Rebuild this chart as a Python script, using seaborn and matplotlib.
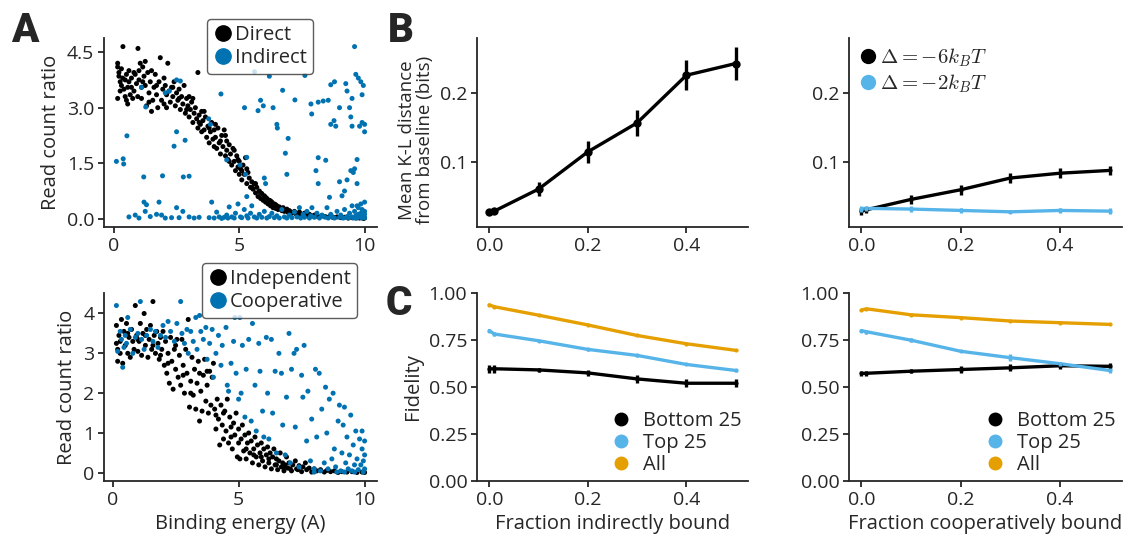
import numpy as np
import pandas as pd
import matplotlib
matplotlib.use("Agg")
import matplotlib.pyplot as plt
import seaborn as sns

sns.set_style("ticks")
plt.rcParams['font.family'] = ['Open Sans', 'DejaVu Sans']
plt.rcParams['mathtext.fontset'] = 'cm'
plt.rcParams['font.size'] = 14
plt.rcParams['axes.labelsize'] = 14.5
plt.rcParams['xtick.labelsize'] = 14
plt.rcParams['ytick.labelsize'] = 14
plt.rcParams['axes.linewidth'] = 1.3
plt.rcParams['xtick.major.width'] = 1.3
plt.rcParams['ytick.major.width'] = 1.3
plt.rcParams['xtick.major.pad'] = 3
plt.rcParams['ytick.major.pad'] = 3

BLACK = "#000000"
BLUE = "#0072B2"
SKY = "#56B4E9"
ORANGE = "#E69F00"

# ---- panel A top: direct vs indirect ----
direct_pts = [
    (0.15, 4.2), (0.15, 4.1), (0.2, 3.95), (0.2, 3.85), (0.15, 3.25), (0.25, 3.7), (0.3, 3.6), (0.3, 4.05),
    (0.35, 3.8), (0.36, 4.65), (0.4, 3.5), (0.45, 3.75), (0.45, 3.3), (0.5, 3.2), (0.5, 3.9),
    (0.55, 3.1), (0.6, 3.7), (0.6, 4.0), (0.65, 3.35), (0.7, 3.55), (0.7, 3.8), (0.75, 3.25), (0.8, 3.45),
    (0.85, 3.9), (0.9, 3.65), (0.95, 3.3), (0.96, 4.6), (1.0, 4.0), (1.0, 3.75),
    (1.05, 4.2), (1.1, 3.55), (1.1, 3.25), (1.15, 4.1), (1.2, 3.85), (1.25, 3.6), (1.25, 4.25), (1.3, 3.05),
    (1.35, 3.95), (1.4, 3.4), (1.45, 3.7), (1.5, 2.9), (1.5, 4.0), (1.55, 3.2),
    (1.6, 3.55), (1.65, 3.9), (1.7, 3.35), (1.75, 3.0), (1.8, 3.7), (1.85, 4.35), (1.9, 3.2), (1.95, 3.5),
    (2.0, 3.8), (2.0, 3.1),
    (2.05, 3.6), (2.1, 3.35), (2.15, 4.2), (2.2, 3.45), (2.25, 3.15), (2.3, 3.55), (2.35, 3.3), (2.4, 3.7),
    (2.45, 3.05), (2.5, 3.4),
    (2.55, 3.2), (2.6, 3.5), (2.65, 2.95), (2.7, 3.3), (2.75, 3.1), (2.8, 3.6), (2.85, 2.85), (2.9, 3.25),
    (2.95, 3.05), (3.0, 2.75), (3.0, 3.3),
    (3.05, 2.95), (3.1, 3.15), (3.15, 2.6), (3.2, 2.85), (3.25, 3.0), (3.3, 2.7), (3.35, 3.95), (3.35, 2.45),
    (3.4, 2.8), (3.45, 2.55), (3.5, 2.9), (3.5, 2.35),
    (3.55, 2.65), (3.6, 2.4), (3.65, 2.75), (3.7, 2.2), (3.75, 2.5), (3.8, 2.05), (3.85, 2.35), (3.9, 2.6),
    (3.95, 2.15), (4.0, 1.95), (4.0, 2.4),
    (4.05, 2.2), (4.1, 1.9), (4.15, 2.45), (4.2, 2.05), (4.25, 1.75), (4.3, 2.25), (4.35, 1.95), (4.4, 2.4),
    (4.45, 1.7), (4.5, 2.1), (4.5, 1.85),
    (4.55, 1.6), (4.6, 2.0), (4.65, 1.75), (4.7, 1.45), (4.75, 1.9), (4.8, 1.55), (4.85, 1.3), (4.9, 1.7),
    (4.95, 1.4), (5.0, 1.2), (5.0, 1.55),
    (5.05, 1.35), (5.1, 1.05), (5.15, 1.45), (5.2, 1.2), (5.25, 1.65), (5.3, 0.95), (5.35, 1.25), (5.4, 1.1),
    (5.45, 0.85), (5.5, 1.0),
    (5.55, 0.8), (5.6, 0.95), (5.65, 0.7), (5.7, 0.85), (5.75, 0.6), (5.8, 0.75), (5.85, 0.55), (5.9, 0.68),
    (5.95, 0.5), (6.0, 0.62),
    (6.05, 0.45), (6.1, 0.55), (6.15, 0.4), (6.2, 0.5), (6.25, 0.35), (6.3, 0.45), (6.35, 0.3), (6.4, 0.4),
    (6.45, 0.28), (6.5, 0.35),
    (6.55, 0.25), (6.6, 0.32), (6.7, 0.22), (6.75, 0.3), (6.8, 0.2), (6.9, 0.26), (6.95, 0.17), (7.0, 0.22),
    (7.1, 0.15), (7.2, 0.2), (7.3, 0.12), (7.4, 0.18), (7.5, 0.1), (7.6, 0.15), (7.7, 0.08), (7.8, 0.12),
    (7.9, 0.07), (8.0, 0.1),
    (8.15, 0.06), (8.3, 0.08), (8.45, 0.05), (8.6, 0.06), (8.75, 0.04), (8.9, 0.05), (9.05, 0.03), (9.2, 0.04),
    (9.35, 0.02), (9.5, 0.03), (9.65, 0.02), (9.8, 0.02), (9.95, 0.01), (10.0, 0.02),
    # extra points filling the dense band
    (0.25, 3.45), (0.55, 3.55), (0.8, 3.95), (1.15, 3.7), (1.4, 3.15), (1.7, 3.6), (2.1, 3.0), (2.35, 3.55),
    (2.6, 3.25), (2.9, 2.95), (3.15, 3.25), (3.4, 2.6), (3.6, 2.9), (3.8, 2.45), (4.05, 2.55), (4.25, 2.1),
    (4.45, 2.25), (4.6, 1.55), (4.8, 1.85), (4.95, 1.6), (5.1, 1.3), (5.3, 1.35), (5.5, 0.85), (5.65, 0.95),
    (5.85, 0.7), (6.05, 0.58), (6.25, 0.48), (6.45, 0.38), (6.65, 0.27), (6.85, 0.23), (7.05, 0.18),
    (7.25, 0.14), (7.45, 0.13), (7.65, 0.1), (7.85, 0.09), (8.05, 0.07), (8.4, 0.06), (8.7, 0.05),
]

indirect_pts = [
    (0.1, 1.55), (0.37, 1.62), (0.39, 1.48), (0.52, 2.24), (1.19, 1.13), (1.94, 1.16), (2.77, 1.13), (3.0, 1.15),
    (2.4, 1.96), (2.84, 2.12), (2.5, 2.35), (1.27, 3.02), (1.1, 3.55), (2.2, 3.45), (2.5, 3.75), (2.65, 3.72),
    (2.05, 3.4), (3.78, 2.7), (3.85, 2.55), (4.27, 3.37), (4.5, 1.59), (5.03, 1.45), (5.25, 1.2), (5.3, 1.66),
    (5.3, 0.6), (5.21, 3.0), (5.61, 3.97), (5.75, 2.92), (5.85, 3.2), (5.96, 3.05), (6.05, 0.95), (6.0, 1.1),
    (6.2, 3.85), (6.35, 3.0), (6.5, 2.55), (6.52, 2.45), (6.73, 3.47), (6.84, 1.77), (6.95, 2.17), (6.9, 1.2),
    (7.22, 3.21), (7.62, 3.87), (7.86, 3.1), (7.89, 2.83), (8.06, 1.3), (8.15, 1.65), (8.45, 1.58), (8.15, 0.95),
    (8.6, 0.58), (8.15, 3.15), (8.35, 3.18), (8.55, 3.2), (8.65, 3.62), (8.8, 3.7), (8.65, 2.55), (8.78, 2.65),
    (8.85, 2.5), (9.0, 3.0), (9.0, 1.0), (9.2, 0.75), (9.1, 0.62), (9.25, 3.65), (9.3, 3.45), (9.4, 3.0),
    (9.45, 2.75), (9.5, 3.25), (9.5, 2.5), (9.6, 4.65), (9.65, 3.9), (9.75, 3.8), (9.85, 3.7), (9.95, 3.6),
    (9.9, 3.35), (10.0, 2.55), (10.0, 2.35), (9.9, 2.6), (9.8, 2.5), (9.7, 1.6), (9.55, 1.25), (9.45, 1.3),
    (9.3, 1.05), (9.6, 1.35), (9.7, 0.95), (9.85, 0.4), (9.75, 0.3), (10.0, 0.45), (9.5, 0.35),
    (0.6, 0.05), (0.85, 0.1), (1.0, 0.02), (1.2, 0.45), (1.3, 0.38), (1.25, 0.2), (1.45, 0.06), (1.7, 0.12),
    (1.8, 0.45), (1.9, 0.1), (2.05, 0.02), (2.3, 0.03), (2.5, 0.3), (2.6, 0.03), (2.75, 0.2), (3.0, 0.05),
    (3.2, 0.02), (3.4, 0.04), (3.8, 0.03), (3.9, 0.45), (4.0, 0.02), (4.1, 0.18), (4.2, 0.05), (4.3, 0.01),
    (4.4, 0.04), (4.5, 0.1), (4.55, 0.02), (4.6, 0.32), (4.7, 0.05), (4.8, 0.02), (4.85, 0.15), (4.95, 0.4),
    (5.05, 0.05), (5.1, 0.03), (5.2, 0.25), (5.3, 0.08), (5.35, 0.02), (5.45, 0.15), (5.5, 0.35), (5.6, 0.05),
    (5.7, 0.02), (5.8, 0.12), (5.9, 0.04), (6.0, 0.2), (6.1, 0.02), (6.2, 0.06), (6.3, 0.15), (6.4, 0.03),
    (6.5, 0.08), (6.6, 0.02), (6.7, 0.25), (6.8, 0.05), (6.9, 0.02), (7.0, 0.1), (7.1, 0.03), (7.2, 0.18),
    (7.3, 0.05), (7.4, 0.3), (7.45, 0.02), (7.55, 0.12), (7.6, 0.04), (7.7, 0.2), (7.8, 0.02), (7.85, 0.08),
    (7.9, 0.3), (8.0, 0.04), (8.1, 0.15), (8.2, 0.02), (8.3, 0.1), (8.4, 0.05), (8.5, 0.3), (8.55, 0.02),
    (8.65, 0.12), (8.7, 0.05), (8.8, 0.02), (8.9, 0.2), (9.0, 0.04), (9.05, 0.1), (9.15, 0.02), (9.2, 0.25),
    (9.3, 0.06), (9.35, 0.02), (9.4, 0.15), (9.5, 0.05), (9.55, 0.02), (9.6, 0.2), (9.65, 0.08), (9.7, 0.02),
    (9.75, 0.12), (9.8, 0.05), (9.85, 0.15), (9.9, 0.02), (9.95, 0.08), (10.0, 0.03), (10.0, 0.12), (10.0, 0.2),
    (9.9, 0.25), (9.7, 0.35),
]

# ---- panel A bottom: independent vs cooperative ----
independent_pts = [
    (0.15, 3.25), (0.15, 3.7), (0.2, 2.8), (0.2, 3.1), (0.25, 3.45), (0.3, 3.3), (0.35, 3.85), (0.4, 2.75),
    (0.45, 3.55), (0.5, 3.2), (0.55, 3.75), (0.6, 3.0), (0.65, 3.4), (0.7, 2.9), (0.75, 3.6), (0.8, 3.3),
    (0.85, 3.1), (0.9, 4.2), (0.95, 3.45), (1.0, 3.05),
    (1.05, 3.3), (1.1, 3.75), (1.15, 2.95), (1.2, 3.5), (1.25, 4.0), (1.3, 3.2), (1.35, 3.6), (1.4, 2.9),
    (1.45, 3.35), (1.5, 3.7), (1.55, 3.1), (1.6, 4.3), (1.65, 3.45), (1.7, 3.0), (1.75, 3.55), (1.8, 3.25),
    (1.85, 2.85), (1.9, 3.4), (1.95, 3.1), (2.0, 3.55),
    (2.05, 2.7), (2.1, 3.3), (2.15, 2.5), (2.2, 3.0), (2.25, 2.25), (2.3, 3.4), (2.35, 2.8), (2.4, 2.1),
    (2.45, 3.1), (2.5, 2.6), (2.55, 3.35), (2.6, 2.4), (2.65, 2.95), (2.7, 2.2), (2.75, 3.35), (2.8, 2.7),
    (2.85, 2.0), (2.9, 3.1), (2.95, 2.5), (3.0, 3.85),
    (3.05, 1.65), (3.1, 2.3), (3.15, 2.9), (3.2, 1.95), (3.25, 2.6), (3.3, 1.6), (3.35, 2.25), (3.4, 2.8),
    (3.45, 1.3), (3.5, 2.05), (3.55, 1.55), (3.6, 2.45), (3.65, 2.85), (3.7, 1.8), (3.75, 2.2), (3.8, 1.5),
    (3.85, 2.55), (3.9, 1.7), (3.95, 2.4), (4.0, 2.75),
    (4.05, 1.6), (4.1, 1.1), (4.15, 1.85), (4.2, 1.35), (4.25, 0.7), (4.3, 1.7), (4.35, 1.2), (4.4, 0.85),
    (4.45, 1.55), (4.5, 1.05), (4.55, 1.85), (4.6, 0.75), (4.65, 1.4), (4.7, 1.15), (4.75, 0.6), (4.8, 1.25),
    (4.85, 0.95), (4.9, 1.5), (4.95, 0.4), (5.0, 1.1),
    (5.05, 0.35), (5.1, 0.85), (5.15, 1.2), (5.2, 0.55), (5.25, 0.95), (5.3, 0.35), (5.35, 0.75), (5.4, 1.0),
    (5.45, 0.5), (5.5, 0.8), (5.55, 0.25), (5.6, 0.6), (5.65, 0.9), (5.7, 0.4), (5.75, 0.7), (5.8, 0.2),
    (5.85, 0.5), (5.9, 0.75), (5.95, 0.3), (6.0, 0.6),
    (6.05, 0.15), (6.1, 0.45), (6.15, 0.65), (6.2, 0.25), (6.25, 0.5), (6.3, 0.1), (6.35, 0.4), (6.4, 0.6),
    (6.45, 0.2), (6.5, 0.35), (6.55, 0.08), (6.6, 0.3), (6.65, 0.5), (6.7, 0.15), (6.75, 0.25), (6.8, 0.05),
    (6.85, 0.2), (6.9, 0.4), (6.95, 0.12), (7.0, 0.25),
    (7.1, 0.05), (7.15, 0.2), (7.25, 0.3), (7.3, 0.1), (7.4, 0.18), (7.5, 0.03), (7.55, 0.15), (7.65, 0.25),
    (7.7, 0.08), (7.8, 0.12), (7.9, 0.02), (8.0, 0.1),
    (8.1, 0.05), (8.25, 0.08), (8.4, 0.02), (8.5, 0.06), (8.65, 0.03), (8.8, 0.05), (8.95, 0.01), (9.1, 0.03),
    (9.3, 0.02), (9.5, 0.03), (9.7, 0.01), (9.9, 0.02), (10.0, 0.01),
    # extra points filling the dense band
    (0.3, 3.0), (0.6, 3.5), (1.0, 3.35), (1.3, 3.45), (1.6, 3.2), (1.9, 2.95), (2.2, 2.75), (2.5, 3.2),
    (2.8, 2.45), (3.1, 2.0), (3.45, 2.5), (3.75, 2.55), (4.1, 1.45), (4.4, 1.5), (4.7, 0.9), (5.0, 0.75),
    (5.3, 0.6), (5.6, 0.45), (5.9, 0.4), (6.2, 0.35), (6.5, 0.2), (6.8, 0.15), (7.05, 0.1), (7.35, 0.08),
]

cooperative_pts = [
    (0.15, 4.2), (0.2, 3.05), (0.3, 3.55), (0.35, 3.35), (0.4, 2.65), (0.45, 3.15), (0.5, 3.45), (0.55, 3.25),
    (0.6, 3.9), (0.7, 3.6), (0.8, 3.0), (0.9, 3.4), (1.0, 3.5),
    (1.1, 4.3), (1.15, 3.35), (1.25, 3.1), (1.35, 3.45), (1.5, 3.6), (1.6, 3.3), (1.7, 3.55), (1.8, 3.15),
    (1.9, 3.45), (2.0, 3.7),
    (2.1, 3.4), (2.2, 3.8), (2.3, 3.55), (2.45, 3.3), (2.55, 3.75), (2.7, 4.3), (2.75, 3.5), (2.85, 3.25),
    (2.95, 3.6), (3.0, 3.0),
    (3.1, 3.55), (3.2, 3.3), (3.3, 3.9), (3.35, 3.1), (3.45, 3.95), (3.5, 3.55), (3.6, 3.35), (3.7, 3.65),
    (3.75, 2.85), (3.85, 3.25), (3.95, 3.6), (4.0, 2.4),
    (4.1, 3.0), (4.2, 3.45), (4.3, 2.7), (4.35, 3.2), (4.5, 3.65), (4.55, 2.2), (4.6, 2.05), (4.7, 2.75),
    (4.8, 3.3), (4.85, 3.9), (4.9, 2.5), (5.0, 1.85), (5.05, 3.9),
    (5.1, 2.0), (5.15, 3.2), (5.25, 1.4), (5.3, 2.6), (5.4, 3.35), (5.5, 1.3), (5.55, 3.75), (5.65, 2.2),
    (5.7, 1.05), (5.8, 3.25), (5.85, 2.55), (5.95, 1.55), (6.0, 0.9),
    (6.1, 3.4), (6.15, 2.0), (6.2, 0.85), (6.3, 3.35), (6.35, 1.5), (6.45, 2.55), (6.5, 0.5), (6.6, 3.0),
    (6.7, 2.5), (6.75, 1.2), (6.85, 0.45), (6.9, 1.9), (7.0, 3.5),
    (7.05, 0.25), (7.1, 2.6), (7.2, 3.0), (7.25, 1.15), (7.3, 3.1), (7.4, 0.15), (7.5, 2.45), (7.55, 1.9),
    (7.6, 3.2), (7.7, 0.8), (7.75, 2.05), (7.85, 0.3), (7.9, 1.35), (8.0, 0.1),
    (8.05, 2.6), (8.1, 0.9), (8.2, 2.5), (8.25, 0.05), (8.3, 1.6), (8.4, 0.25), (8.45, 2.15), (8.5, 1.0),
    (8.55, 0.1), (8.6, 1.85), (8.7, 0.35), (8.75, 2.0), (8.8, 0.6), (8.85, 0.15), (8.95, 1.3), (9.0, 1.7),
    (9.05, 0.05), (9.1, 0.5), (9.15, 1.2), (9.2, 1.65), (9.25, 0.25), (9.3, 0.9), (9.35, 0.1), (9.4, 0.45),
    (9.45, 1.45), (9.5, 0.05), (9.55, 0.7), (9.6, 0.2), (9.65, 1.05), (9.7, 0.35), (9.75, 0.08), (9.8, 0.85),
    (9.85, 0.2), (9.9, 1.05), (9.9, 0.6), (9.95, 0.3), (10.0, 0.8), (10.0, 0.1), (10.0, 0.45), (9.95, 0.02),
    (9.6, 0.02), (9.2, 0.02), (8.9, 0.02), (8.0, 0.02),
]

# ---- panel B: K-L distance ----
frac = [0.0, 0.01, 0.1, 0.2, 0.3, 0.4, 0.5]
kl_indirect = [0.028, 0.029, 0.061, 0.115, 0.157, 0.226, 0.243]
kl_indirect_err = [0.003, 0.003, 0.010, 0.016, 0.019, 0.022, 0.024]
kl_coop_6 = [0.029, 0.031, 0.046, 0.060, 0.077, 0.084, 0.088]
kl_coop_6_err = [0.005, 0.004, 0.006, 0.007, 0.007, 0.007, 0.006]
kl_coop_2 = [0.032, 0.033, 0.032, 0.030, 0.028, 0.030, 0.029]
kl_coop_2_err = [0.004, 0.004, 0.004, 0.003, 0.002, 0.003, 0.004]

# ---- panel C: fidelity ----
fid_ind_bottom = [0.597, 0.597, 0.591, 0.575, 0.543, 0.520, 0.520]
fid_ind_top = [0.800, 0.782, 0.746, 0.700, 0.668, 0.620, 0.588]
fid_ind_all = [0.937, 0.927, 0.882, 0.830, 0.774, 0.730, 0.695]
fid_ind_bottom_err = [0.022, 0.022, 0.012, 0.018, 0.02, 0.02, 0.022]
fid_ind_top_err = [0.01, 0.01, 0.006, 0.008, 0.006, 0.005, 0.01]
fid_ind_all_err = [0.005, 0.005, 0.004, 0.004, 0.005, 0.006, 0.005]

fid_coop_bottom = [0.572, 0.573, 0.584, 0.593, 0.602, 0.613, 0.610]
fid_coop_top = [0.800, 0.794, 0.749, 0.690, 0.656, 0.624, 0.588]
fid_coop_all = [0.909, 0.916, 0.884, 0.869, 0.851, 0.842, 0.833]
fid_coop_bottom_err = [0.012, 0.012, 0.012, 0.02, 0.018, 0.016, 0.016]
fid_coop_top_err = [0.01, 0.01, 0.01, 0.006, 0.02, 0.01, 0.012]
fid_coop_all_err = [0.005, 0.005, 0.004, 0.004, 0.004, 0.004, 0.004]


def pts_frame(groups):
    rows = []
    for label, pts in groups:
        for x, y in pts:
            rows.append({"energy": x, "ratio": y, "kind": label})
    return pd.DataFrame(rows)


def dot_legend(ax, labels, colors, ms=10, **kw):
    handles = [plt.Line2D([], [], marker='o', ls='', color=c, markersize=ms) for c in colors]
    opts = dict(handletextpad=0.1, handlelength=1.0, labelspacing=0.15, borderpad=0.3)
    opts.update(kw)
    return ax.legend(handles, labels, **opts)


fig = plt.figure(figsize=(11.42, 5.48), dpi=100)

W, H = 1142, 548
def add_ax(left, top, right, bottom):
    return fig.add_axes([left / W, 1 - bottom / H, (right - left) / W, (bottom - top) / H])

axA1 = add_ax(104, 38, 377, 227)
axA2 = add_ax(104, 293, 377, 481)
axB1 = add_ax(477, 38, 748, 227)
axB2 = add_ax(849, 38, 1122, 227)
axC1 = add_ax(477, 293, 748, 481)
axC2 = add_ax(849, 293, 1122, 481)

# A top
dfA1 = pts_frame([("Direct", direct_pts), ("Indirect", indirect_pts)])
sns.scatterplot(data=dfA1, x="energy", y="ratio", hue="kind", palette={"Direct": BLACK, "Indirect": BLUE},
                s=13, linewidth=0, ax=axA1, legend=False)
axA1.set_yticks([0, 1.5, 3.0, 4.5])
axA1.set_xticks([0, 5, 10])
axA1.set_xlabel("")
axA1.set_ylabel("Read count ratio")
leg = dot_legend(axA1, ["Direct", "Indirect"], [BLACK, BLUE], ms=11, loc="upper left",
                 bbox_to_anchor=(0.377, 1.10), borderaxespad=0, frameon=True, fancybox=True, fontsize=14.5)
leg.get_frame().set_edgecolor("#333333")
leg.get_frame().set_linewidth(1.0)

# A bottom
dfA2 = pts_frame([("Independent", independent_pts), ("Cooperative", cooperative_pts)])
sns.scatterplot(data=dfA2, x="energy", y="ratio", hue="kind",
                palette={"Independent": BLACK, "Cooperative": BLUE},
                s=13, linewidth=0, ax=axA2, legend=False)
axA2.set_yticks([0, 1, 2, 3, 4])
axA2.set_xticks([0, 5, 10])
axA2.set_xlabel("Binding energy (A)")
axA2.set_ylabel("Read count ratio")
leg = dot_legend(axA2, ["Independent", "Cooperative"], [BLACK, BLUE], ms=11, loc="upper left",
                 bbox_to_anchor=(0.358, 1.158), borderaxespad=0, frameon=True, fancybox=True, fontsize=14.5)
leg.get_frame().set_edgecolor("#333333")
leg.get_frame().set_linewidth(1.0)

# B left
sns.lineplot(x=frac, y=kl_indirect, color=BLACK, lw=2.4, marker='o', markersize=6,
             markeredgewidth=0, ax=axB1)
axB1.errorbar(frac, kl_indirect, yerr=kl_indirect_err, fmt='none', ecolor=BLACK, elinewidth=2.4)
axB1.set_ylim(0.006, 0.28)
axB1.set_yticks([0.1, 0.2])
axB1.set_xticks([0.0, 0.2, 0.4])
axB1.set_ylabel("Mean K-L distance\nfrom baseline (bits)", linespacing=1.0, fontsize=13.5, y=0.46)

# B right
dfB2 = pd.DataFrame({
    "frac": frac * 2,
    "kl": kl_coop_6 + kl_coop_2,
    "delta": ["-6"] * len(frac) + ["-2"] * len(frac),
})
sns.lineplot(data=dfB2, x="frac", y="kl", hue="delta", palette={"-6": BLACK, "-2": SKY},
             lw=2.4, marker='o', markersize=3, markeredgewidth=0, ax=axB2, legend=False)
axB2.errorbar(frac, kl_coop_6, yerr=kl_coop_6_err, fmt='none', ecolor=BLACK, elinewidth=2.4)
axB2.errorbar(frac, kl_coop_2, yerr=kl_coop_2_err, fmt='none', ecolor=SKY, elinewidth=2.4)
axB2.set_ylim(0.006, 0.28)
axB2.set_yticks([0.1, 0.2])
axB2.set_xticks([0.0, 0.2, 0.4])
axB2.set_xlabel("")
axB2.set_ylabel("")
dot_legend(axB2, [r"$\Delta = -6k_BT$", r"$\Delta = -2k_BT$"], [BLACK, SKY], loc="upper left",
           frameon=False, borderaxespad=0.1, fontsize=15)

# C panels
def fidelity(ax, bottom, top, allv, errs, xlabel):
    df = pd.DataFrame({
        "frac": frac * 3,
        "fid": bottom + top + allv,
        "group": ["Bottom 25"] * 7 + ["Top 25"] * 7 + ["All"] * 7,
    })
    pal = {"Bottom 25": BLACK, "Top 25": SKY, "All": ORANGE}
    sns.lineplot(data=df, x="frac", y="fid", hue="group", palette=pal, lw=2.4,
                 marker='o', markersize=3, markeredgewidth=0, ax=ax, legend=False)
    for vals, err, key in zip([bottom, top, allv], errs, pal):
        ax.errorbar(frac, vals, yerr=err, fmt='none', ecolor=pal[key], elinewidth=2.4)
    ax.set_ylim(0, 1.0)
    ax.set_yticks([0, 0.25, 0.5, 0.75, 1.0])
    ax.set_xticks([0.0, 0.2, 0.4])
    ax.set_xlabel(xlabel)
    dot_legend(ax, list(pal), list(pal.values()), ms=9, loc="lower right", frameon=False,
               borderaxespad=0.0, fontsize=14.5, handletextpad=0.6, labelspacing=0.1)

fidelity(axC1, fid_ind_bottom, fid_ind_top, fid_ind_all,
         [fid_ind_bottom_err, fid_ind_top_err, fid_ind_all_err], "Fraction indirectly bound")
axC1.set_ylabel("Fidelity")
fidelity(axC2, fid_coop_bottom, fid_coop_top, fid_coop_all,
         [fid_coop_bottom_err, fid_coop_top_err, fid_coop_all_err], "Fraction cooperatively bound")
axC2.set_ylabel("")

for ax in [axA1, axA2, axB1, axB2, axC1, axC2]:
    sns.despine(ax=ax)
    ax.tick_params(length=4)

for letter, x, y in [("A", 11, 42), ("B", 388, 42), ("C", 386, 315)]:
    fig.text(x / W, 1 - y / H, letter, fontsize=29, fontweight='heavy', family='Roboto',
             va='baseline', ha='left')

fig.savefig("out.png", dpi=100)
